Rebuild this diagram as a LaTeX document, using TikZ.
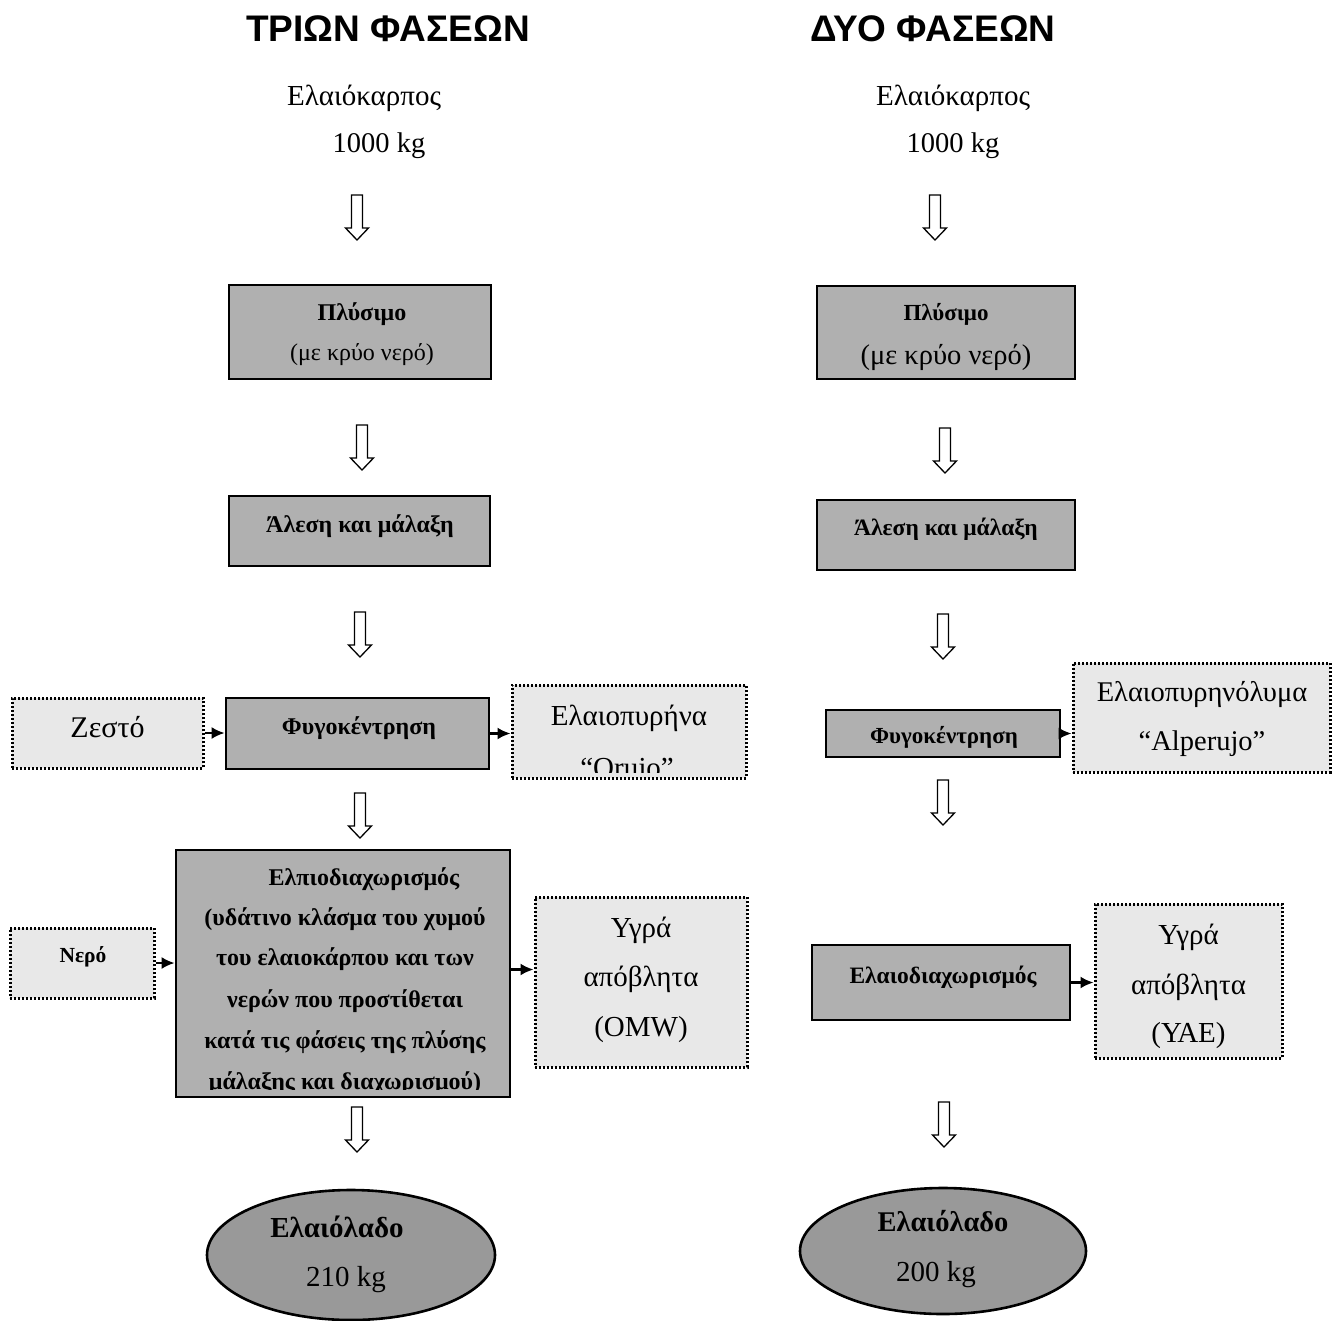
\documentclass[tikz,border=0pt]{standalone}
\usepackage{fontspec}
\setmainfont{Liberation Serif}
\setsansfont{Liberation Sans}
\usetikzlibrary{shapes.geometric,arrows.meta}
\definecolor{boxgray}{gray}{0.69}
\definecolor{ovalgray}{gray}{0.60}
\definecolor{lightgray}{gray}{0.91}
\tikzset{
  rg/.style={inner sep=0pt, font=\fontsize{#1}{#1}\selectfont, text height=0.88*#1pt, text depth=0.18*#1pt},
  bd/.style={inner sep=0pt, font=\fontsize{#1}{#1}\selectfont\bfseries, text height=0.84*#1pt, text depth=0.18*#1pt},
  procbox/.style={draw=black, line width=2.8pt, fill=boxgray, rectangle, inner sep=0pt},
  sidebox/.style={draw=black, line width=3pt, dash pattern=on 2pt off 2pt, fill=lightgray, rectangle, inner sep=0pt},
  oval/.style={draw=black, line width=2.6pt, fill=ovalgray, ellipse, inner sep=0pt},
  smallarrow/.style={line width=2.2pt, -{Latex[length=13pt,width=12pt]}},
  harrow/.pic={\draw[line width=1.3pt, fill=white, line join=miter]
     (-5.5,0) -- (5.5,0) -- (5.5,33) -- (11.5,33) -- (0,45) -- (-11.5,33) -- (-5.5,33) -- cycle;}
}
\begin{document}
\begin{tikzpicture}[x=1pt,y=-1pt]
\useasboundingbox[fill=white] (0,0) rectangle (1336,1320);

% titles
\node[font=\fontsize{37}{37}\sffamily\bfseries, inner sep=0pt] (title1) at (388,29) {ΤΡΙΩΝ ΦΑΣΕΩΝ};
\node[font=\fontsize{37}{37}\sffamily\bfseries, inner sep=0pt] (title2) at (933,29) {ΔΥΟ ΦΑΣΕΩΝ};

% inputs
\node[rg=29] (in1) at (364,95) {Ελαιόκαρπος};
\node[rg=28.5] (kg1) at (379,143) {1000 kg};
\node[rg=29] (in2) at (953,95) {Ελαιόκαρπος};
\node[rg=28.5] (kg2) at (953,143) {1000 kg};

% hollow arrows
\pic at (357,195) {harrow};
\pic at (935,195) {harrow};
\pic at (362,425) {harrow};
\pic at (945,428) {harrow};
\pic at (360,612) {harrow};
\pic at (943,614) {harrow};
\pic at (360,793) {harrow};
\pic at (943,780) {harrow};
\pic at (357,1107) {harrow};
\pic at (944,1102) {harrow};

% ---- left column ----
\node[procbox, minimum width=262pt, minimum height=94pt] (wash1) at (360,332) {};
\node[bd=24] (wash1a) at (362,313) {Πλύσιμο};
\node[rg=24] (wash1b) at (362,352) {(με κρύο νερό)};

\node[procbox, minimum width=261pt, minimum height=70pt] (mill1) at (359.5,531) {};
\node[bd=24] (mill1t) at (360,525) {Άλεση και μάλαξη};

\node[procbox, minimum width=263pt, minimum height=71pt] (fyg1) at (357.5,733.5) {};
\node[bd=24] (fyg1t) at (359,727) {Φυγοκέντρηση};

\node[sidebox, minimum width=191pt, minimum height=70pt] (zesto) at (107.5,733) {};
\node[rg=30] (zestot) at (107.5,727) {Ζεστό};

\node[sidebox, minimum width=234pt, minimum height=93pt] (pyr1) at (629,731.5) {};
\node[rg=29] (pyr1a) at (629,715) {Ελαιοπυρήνα};
\begin{scope}
\clip (515,690) rectangle (743,772);
\node[rg=29] (pyr1b) at (627,767) {“Orujo”};
\end{scope}

\node[procbox, minimum width=334pt, minimum height=247pt] (big) at (343,973.5) {};
\node[bd=24] (bigl1) at (364,878) {Ελπιοδιαχωρισμός};
\node[bd=24] (bigl2) at (345,918) {(υδάτινο κλάσμα του χυμού};
\node[bd=24] (bigl3) at (345,958) {του ελαιοκάρπου και των};
\node[bd=24] (bigl4) at (345,1000) {νερών που προστίθεται};
\node[bd=24] (bigl5) at (345,1041) {κατά τις φάσεις της πλύσης};
\begin{scope}
\clip (180,1060) rectangle (506,1089);
\node[bd=24] (bigl6) at (345,1082) {μάλαξης και διαχωρισμού)};
\end{scope}

\node[sidebox, minimum width=144pt, minimum height=70pt] (nero) at (82,963) {};
\node[bd=21.5] (nerot) at (83,955) {Νερό};

\node[sidebox, minimum width=212pt, minimum height=170pt] (ygra1) at (641,982) {};
\node[rg=29] (ygra1a) at (641,927) {Υγρά};
\node[rg=29] (ygra1b) at (641,976) {απόβλητα};
\node[rg=29] (ygra1c) at (641,1026) {(OMW)};

\node[oval, minimum width=288pt, minimum height=130pt] (oil1) at (351,1255) {};
\node[bd=29] (oil1a) at (337,1228) {Ελαιόλαδο};
\node[rg=29] (oil1b) at (346,1276) {210 kg};

% ---- right column ----
\node[procbox, minimum width=258pt, minimum height=93pt] (wash2) at (946,332.5) {};
\node[bd=23] (wash2a) at (946,313) {Πλύσιμο};
\node[rg=28.5] (wash2b) at (946,355) {(με κρύο νερό)};

\node[procbox, minimum width=258pt, minimum height=70pt] (mill2) at (946,535) {};
\node[bd=23.5] (mill2t) at (946,528) {Άλεση και μάλαξη};

\node[procbox, minimum width=234pt, minimum height=47pt] (fyg2) at (943,733.5) {};
\node[bd=23] (fyg2t) at (944,736) {Φυγοκέντρηση};

\node[sidebox, minimum width=257pt, minimum height=109pt] (alp) at (1201.5,717.5) {};
\node[rg=28.5] (alpa) at (1202,692) {Ελαιοπυρηνόλυμα};
\node[rg=28.5] (alpb) at (1202,741) {“Alperujo”};

\node[procbox, minimum width=258pt, minimum height=75pt] (el2) at (941,982.5) {};
\node[bd=23.5] (el2t) at (943,976) {Ελαιοδιαχωρισμός};

\node[sidebox, minimum width=187pt, minimum height=154pt] (ygra2) at (1188.5,981) {};
\node[rg=29] (ygra2a) at (1188.5,934) {Υγρά};
\node[rg=29] (ygra2b) at (1188.5,984) {απόβλητα};
\node[rg=29] (ygra2c) at (1188.5,1032) {(ΥΑΕ)};

\node[oval, minimum width=286pt, minimum height=126pt] (oil2) at (943,1251) {};
\node[bd=28.5] (oil2a) at (943,1222) {Ελαιόλαδο};
\node[rg=29] (oil2b) at (936,1271) {200 kg};

% small arrows
\draw[smallarrow] (zesto.east) -- (zesto.east -| fyg1.west);
\draw[smallarrow] (fyg1.east) -- (fyg1.east -| pyr1.west);
\draw[smallarrow] (nero.east) -- (nero.east -| big.west);
\draw[smallarrow] ([yshift=4pt]big.east) -- ([yshift=4pt]big.east -| ygra1.west);
\draw[smallarrow] (fyg2.east) -- (fyg2.east -| alp.west);
\draw[smallarrow] (el2.east) -- (el2.east -| ygra2.west);
\end{tikzpicture}
\end{document}
